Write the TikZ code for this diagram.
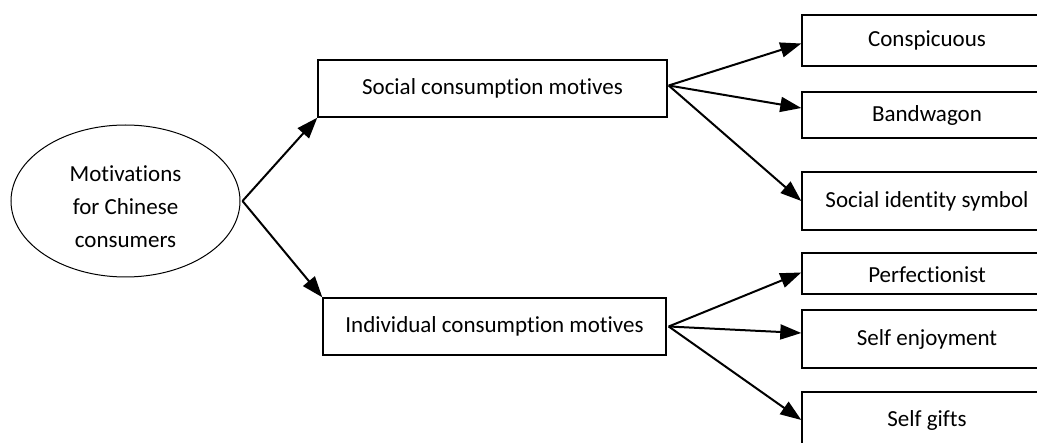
\documentclass[tikz,border=0pt]{standalone}
\usepackage{fontspec}
\setmainfont{Carlito}[Ligatures=NoCommon]
\usetikzlibrary{arrows.meta,shapes.geometric}
\begin{document}
\begin{tikzpicture}[x=1pt,y=-1pt,
  every node/.style={font=\fontsize{23}{33}\selectfont, text=black},
  box/.style={draw, line width=1.4pt, rectangle, inner sep=0pt},
  conn/.style={line width=2pt, -{Triangle[length=21pt,width=15pt]}}]
\useasboundingbox (0,0) rectangle (1037,443);
\begin{scope}
\clip (0,0) rectangle (1037,443);
\node[draw, ellipse, line width=1pt, minimum width=229pt, minimum height=152pt, inner sep=0pt, align=center] (mot) at (125.5,201) {\rule{0pt}{28pt}Motivations\\for Chinese\\consumers};
\node[box, minimum width=349pt, minimum height=57pt] (soc) at (492.5,88.5) {Social consumption motives};
\node[box, minimum width=343pt, minimum height=57pt] (ind) at (494.5,326.5) {Individual consumption motives};
\node[box, minimum width=250pt, minimum height=51pt] (consp) at (927,40.5) {Conspicuous};
\node[box, minimum width=250pt, minimum height=46pt] (band) at (927,115) {Bandwagon};
\node[box, minimum width=250pt, minimum height=58pt] (sid) at (927,201) {Social identity symbol};
\node[box, minimum width=250pt, minimum height=41pt, text height=19pt, text depth=0pt] (perf) at (927,273.5) {Perfectionist};
\node[box, minimum width=250pt, minimum height=58pt] (senj) at (927,339) {Self enjoyment};
\node[box, minimum width=250pt, minimum height=56pt] (sgift) at (927,420) {Self gifts};
\end{scope}
\draw[conn] ([xshift=2pt]mot.east) -- (soc.south west);
\draw[conn] ([xshift=2pt]mot.east) -- (ind.north west);
\draw[conn] ([shift={(1pt,3pt)}]soc.east) -- ([yshift=-3pt]consp.west);
\draw[conn] ([shift={(1pt,3pt)}]soc.east) -- ([yshift=7pt]band.west);
\draw[conn] ([shift={(1pt,3pt)}]soc.east) -- (sid.west);
\draw[conn] ([shift={(2pt,0pt)}]ind.east) -- ([yshift=1pt]perf.west);
\draw[conn] ([shift={(2pt,0pt)}]ind.east) -- ([yshift=6pt]senj.west);
\draw[conn] ([shift={(2pt,0pt)}]ind.east) -- (sgift.west);
\end{tikzpicture}
\end{document}
